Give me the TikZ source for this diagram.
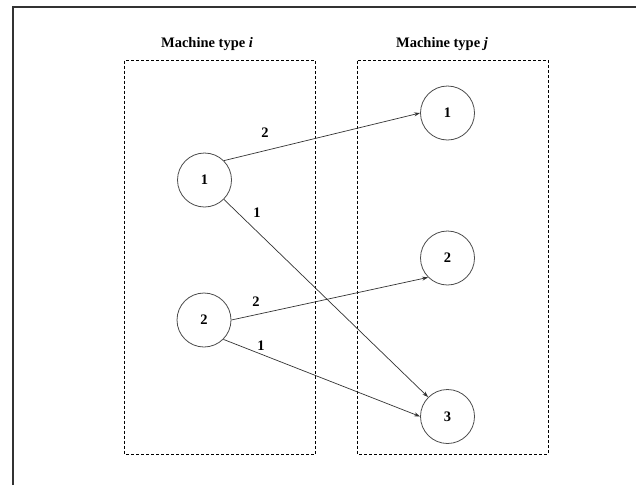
\documentclass[tikz,border=0pt]{standalone}
\usepackage{fontspec}
\setmainfont{Liberation Serif}
\usetikzlibrary{arrows.meta}
\begin{document}
\begin{tikzpicture}[x=1pt,y=-1pt,
  machine/.style={circle,draw=black!70,line width=0.8pt,minimum size=54pt,inner sep=0pt,font=\fontsize{14.5}{17}\selectfont\bfseries},
  group/.style={draw=black,dash pattern=on 3pt off 2pt,line width=0.7pt},
  flow/.style={draw=black!80,line width=0.7pt,-{Stealth[length=6pt,width=4pt]}},
  lbl/.style={font=\fontsize{14.5}{17}\selectfont\bfseries,inner sep=0pt},
  title/.style={font=\fontsize{14.5}{17}\selectfont\bfseries,inner sep=0pt}]
\useasboundingbox (0,0) rectangle (636,485);
\fill[white] (0,0) rectangle (636,485);
\draw[line width=2pt,black!80] (13,485) -- (13,7) -- (636,7);
\draw[group] (124.5,60.5) rectangle (315.5,454);
\draw[group] (357.5,60.5) rectangle (548,454);
\node[title] (ti) at (207,44) {Machine type \textit{i}};
\node[title] (tj) at (442,44) {Machine type \textit{j}};
\node[machine] (a1) at (204.5,180) {1};
\node[machine] (a2) at (204,320) {2};
\node[machine] (b1) at (447.5,113) {1};
\node[machine] (b2) at (447.5,258) {2};
\node[machine] (b3) at (447.5,416.5) {3};
\draw[flow] (a1.north east) -- (b1.west);
\draw[flow] (a1.south east) -- (b3.north west);
\draw[flow] (a2.east) -- (b2.south west);
\draw[flow] (a2.south east) -- (b3.west);
\node[lbl] (l1) at (265,133) {2};
\node[lbl] (l2) at (257,213) {1};
\node[lbl] (l3) at (256,302) {2};
\node[lbl] (l4) at (261,346) {1};
\end{tikzpicture}
\end{document}
